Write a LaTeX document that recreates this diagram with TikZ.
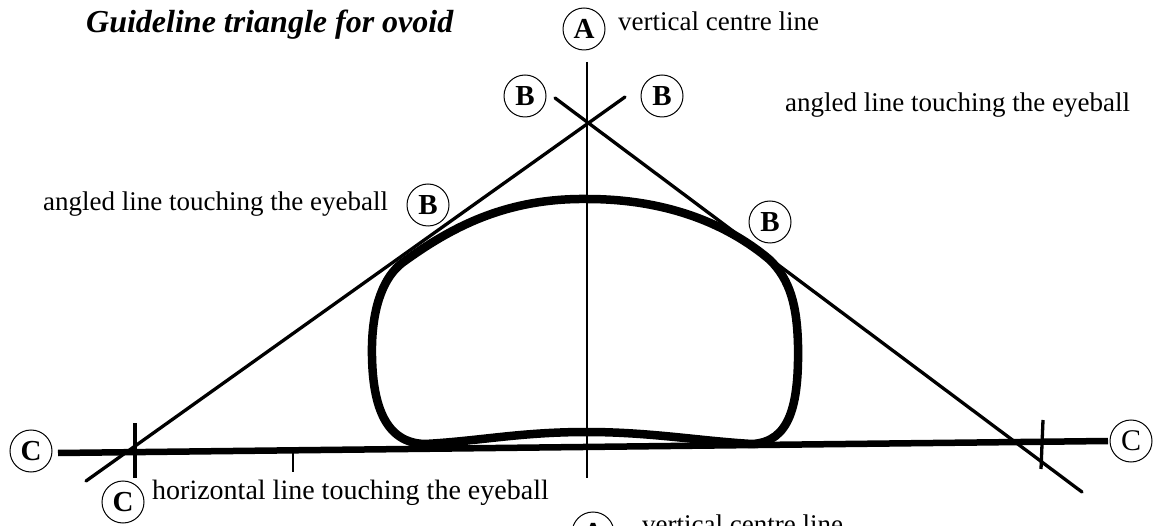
\documentclass[tikz,border=0pt]{standalone}
\usepackage{fontspec}
\setmainfont{Liberation Serif}
\begin{document}
\begin{tikzpicture}[x=1pt,y=-1pt,
  circ/.style={circle, draw, line width=1pt, inner sep=0pt, minimum size=42pt, font=\bfseries\fontsize{29}{29}\selectfont},
  circthin/.style={circ, font=\fontsize{30}{30}\selectfont},
  lbl/.style={inner sep=0pt, font=\fontsize{27}{27}\selectfont},
  guide/.style={line width=3.3pt, line cap=round},
  hline/.style={line width=6.5pt},
  ovoidline/.style={line width=8.5pt, line join=round}]
\useasboundingbox (0,0) rectangle (1167,526);
\clip (0,0) rectangle (1167,526);
% title
\node[anchor=base west, inner sep=0pt, font=\bfseries\itshape\fontsize{32}{32}\selectfont] (title) at (86,33) {Guideline triangle for ovoid};
% coordinates
\coordinate (vtop) at (587,62);
\coordinate (vbot) at (587,478);
\coordinate (ltop) at (625,97);
\coordinate (lbot) at (86,481);
\coordinate (rtop) at (555,98);
\coordinate (rbot) at (1082,492);
\coordinate (hl) at (58,453);
\coordinate (hr) at (1108,441);
\coordinate (t1a) at (135,423);
\coordinate (t1b) at (135,478);
\coordinate (t2a) at (293,451);
\coordinate (t2b) at (293,472);
\coordinate (t3a) at (1043,420);
\coordinate (t3b) at (1041,469);
% lines
\draw[line width=2.7pt] (vtop) -- (vbot);
\draw[guide] (ltop) -- (lbot);
\draw[guide] (rtop) -- (rbot);
\draw[hline] (hl) -- (hr);
\draw[line width=4pt] (t1a) -- (t1b);
\draw[line width=1.7pt] (t2a) -- (t2b);
\draw[line width=3.3pt] (t3a) -- (t3b);
% ovoid
\draw[ovoidline] (587,199)
  .. controls (505,198) and (450,228) .. (402,263)
  .. controls (384,277) and (373,305) .. (372,345)
  .. controls (371,405) and (385,443) .. (425,444)
  .. controls (480,441) and (520,432) .. (587,432)
  .. controls (650,432) and (700,441) .. (752,444)
  .. controls (790,442) and (799,405) .. (798,345)
  .. controls (797,305) and (790,280) .. (770,260)
  .. controls (730,226) and (670,199) .. (587,199) -- cycle;
% labels
\node[circ] (A1) at (584,29) {A};
\node[lbl, anchor=base west] (A1t) at (618,31) {vertical centre line};
\node[circ] (B1) at (525,96) {B};
\node[circ] (B2) at (662,96) {B};
\node[lbl, anchor=base west] (Rt) at (785,112) {angled line touching the eyeball};
\node[circ] (B3) at (428,205) {B};
\node[lbl, anchor=base west] (Lt) at (43,211) {angled line touching the eyeball};
\node[circ] (B4) at (770,222) {B};
\node[circ] (C1) at (31,451) {C};
\node[circthin] (C2) at (1131,441) {C};
\node[circ] (C3) at (123,502) {C};
\node[lbl, anchor=base west, font=\fontsize{28}{28}\selectfont] (C3t) at (152,499) {horizontal line touching the eyeball};
\node[circ] (A2) at (593,533) {A};
\node[lbl, anchor=base west] (A2t) at (642,533) {vertical centre line};
\end{tikzpicture}
\end{document}
